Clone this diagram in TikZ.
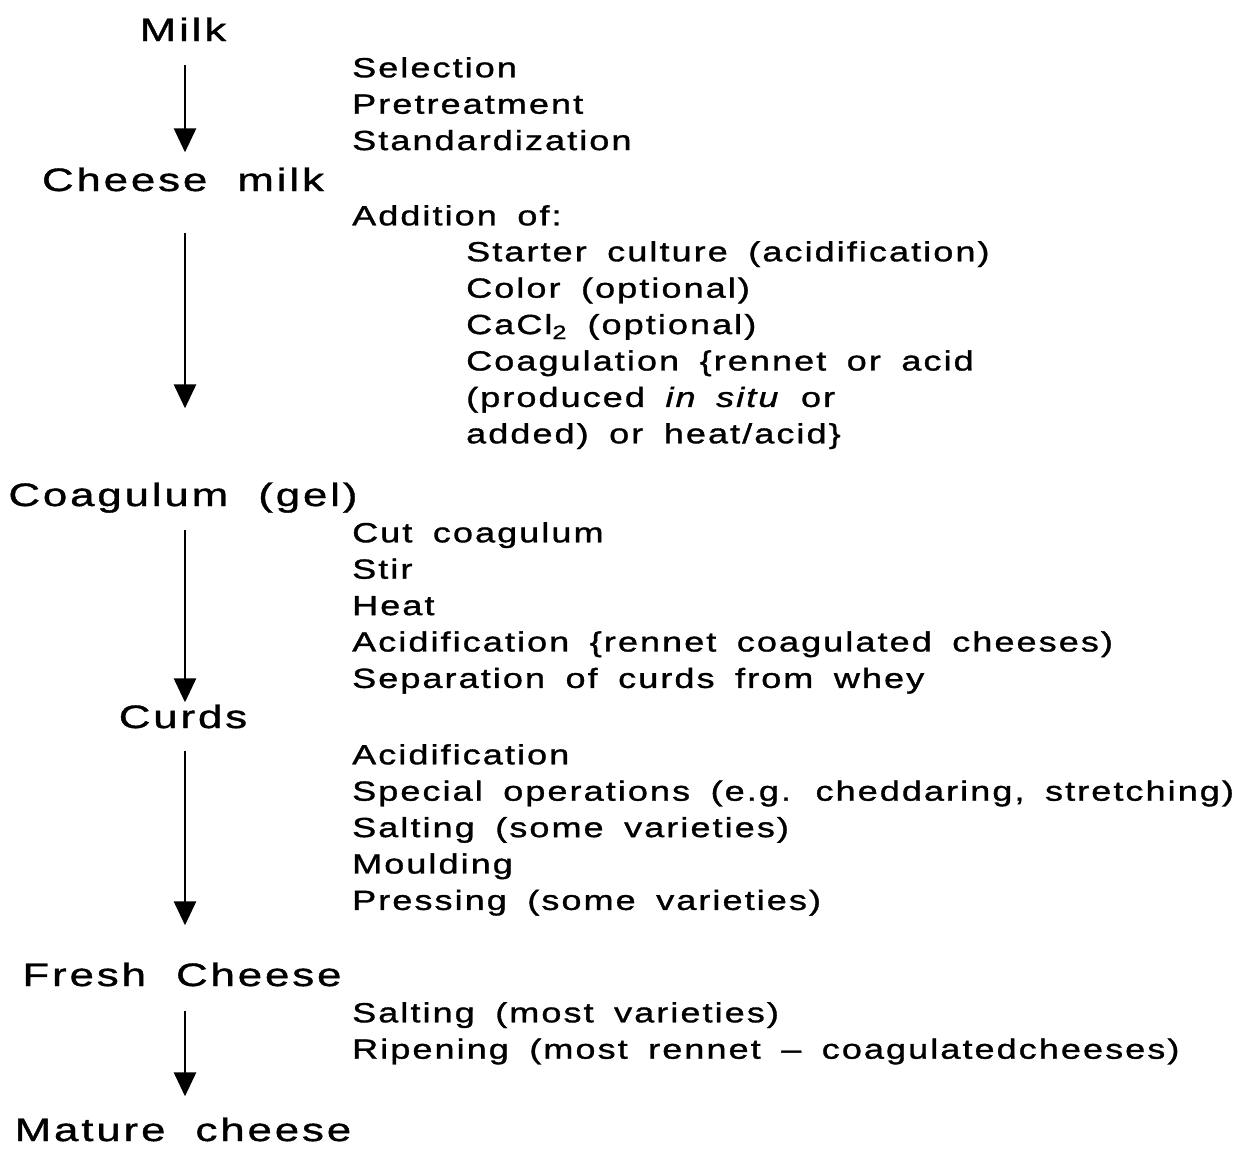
\documentclass[tikz,border=0pt]{standalone}
\usepackage{fontspec}
\setmainfont{Liberation Sans}[FakeStretch=1.3,LetterSpace=7.5,WordSpace=1.7,FakeBold=1.2]
\newfontfamily\stagefont{Liberation Sans}[FakeStretch=1.35,LetterSpace=9,WordSpace=2,FakeBold=1.2]
\usetikzlibrary{arrows.meta}
\tikzset{
  stage/.style={font=\stagefont\fontsize{32.4}{36}\selectfont, inner sep=0pt, anchor=base},
  steps/.style={font=\fontsize{27.7}{36.4}\selectfont, inner sep=0pt, align=left, anchor=north west},
  flow/.style={line width=2.8pt, -{Triangle[length=24pt,width=22pt]}}
}
\begin{document}
\begin{tikzpicture}[x=1pt,y=-1pt]
  \useasboundingbox (0,0) rectangle (1239,1152);
  % main stages
  \node[stage] (milk) at (183,41) {Milk};
  \node[stage] (cmilk) at (183,191) {Cheese milk};
  \node[stage] (gel) at (183,506) {Coagulum (gel)};
  \node[stage] (curds) at (183,728) {Curds};
  \node[stage] (fresh) at (182,986) {Fresh Cheese};
  \node[stage] (mature) at (183,1141) {Mature cheese};
  % operations
  \node[steps] (pre) at (352,57) {Selection\\Pretreatment\\Standardization};
  \node[steps] (add) at (352,205) {Addition of:};
  \node[steps] (addlist) at (466,241) {Starter culture (acidification)\\
    Color (optional)\\
    CaCl\textsubscript{2} (optional)\\
    Coagulation \{rennet or acid\\
    (produced \textit{in situ} or\\
    added) or heat/acid\}};
  \node[steps] (cut) at (352,522) {Cut coagulum\\Stir\\Heat\\
    Acidification \{rennet coagulated cheeses)\\
    Separation of curds from whey};
  \node[steps] (mould) at (352,744) {Acidification\\
    Special operations (e.g. cheddaring, stretching)\\
    Salting (some varieties)\\Moulding\\
    Pressing (some varieties)};
  \node[steps] (ripen) at (352,1002) {Salting (most varieties)\\
    Ripening (most rennet -- coagulatedcheeses)};
  % arrows
  \draw[flow, shorten <=24pt, shorten >=15pt]
    ([xshift=2pt]milk.south) -- ([xshift=2pt]cmilk.north);
  \draw[flow, shorten <=41pt, shorten >=74pt]
    ([xshift=2pt]cmilk.south) -- ([xshift=2pt]gel.north);
  \draw[flow, shorten <=17pt, shorten >=2pt]
    ([xshift=2pt]gel.south) -- ([xshift=2pt]curds.north);
  \draw[flow, shorten <=22pt, shorten >=37pt]
    ([xshift=2pt]curds.south) -- ([xshift=3pt]fresh.north);
  \draw[flow, shorten <=24pt, shorten >=21pt]
    ([xshift=3pt]fresh.south) -- ([xshift=2pt]mature.north);
\end{tikzpicture}
\end{document}
